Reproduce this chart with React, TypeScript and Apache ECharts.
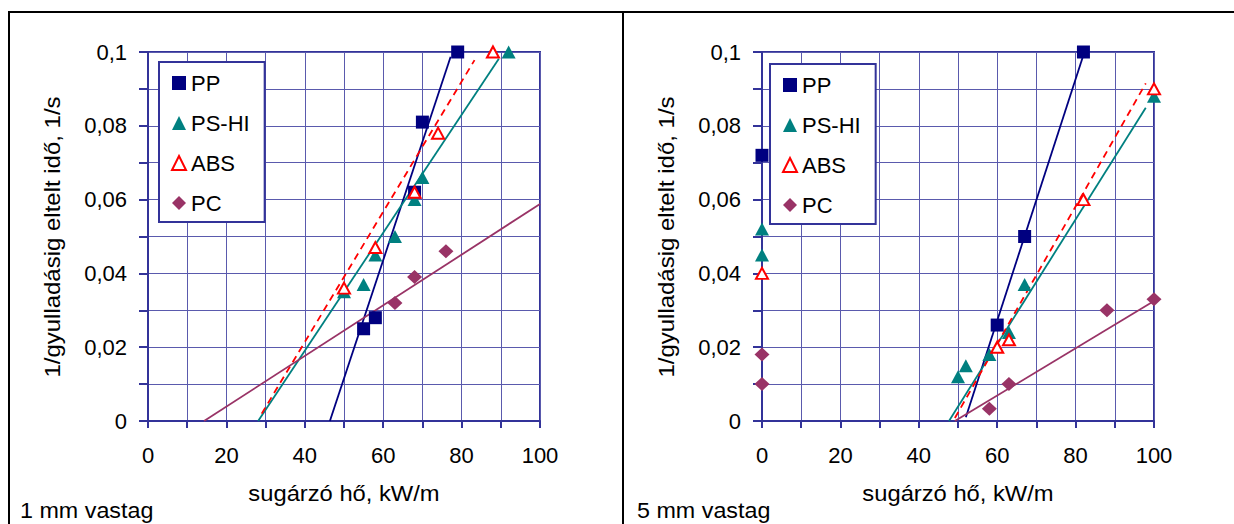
import React, { useEffect, useRef } from "react";
import * as echarts from "echarts";

// ---------- data ----------
const seriesNames = ["PP", "PS-HI", "ABS", "PC"];
const xTickLabels = [0, 20, 40, 60, 80, 100];
const yTickLabels = ["0", "0,02", "0,04", "0,06", "0,08", "0,1"];

// 1 mm vastag
const ppLeft = [[79, 0.1], [70, 0.081], [68, 0.062], [58, 0.028], [55, 0.025]];
const psLeft = [[92, 0.1], [70, 0.066], [68, 0.06], [63, 0.05], [58, 0.045], [55, 0.037], [50, 0.035]];
const absLeft = [[88, 0.1], [74, 0.078], [68, 0.062], [58, 0.047], [50, 0.036]];
const pcLeft = [[76, 0.046], [68, 0.039], [63, 0.032]];
const ppTrendLeft = [[46.4, 0], [77.2, 0.0987]];
const psTrendLeft = [[28.1, 0], [89.5, 0.0982]];
const absTrendLeft = [[29, 0.002], [83.3, 0.0978]];
const pcTrendLeft = [[14.3, 0], [100, 0.0588]];

// 5 mm vastag
const ppRight = [[82, 0.1], [67, 0.05], [60, 0.026], [0, 0.072]];
const psRight = [[100, 0.088], [67, 0.037], [63, 0.024], [58, 0.018], [52, 0.015], [50, 0.012], [0, 0.052], [0, 0.045]];
const absRight = [[100, 0.09], [82, 0.06], [63, 0.022], [60, 0.02], [0, 0.04]];
const pcRight = [[100, 0.033], [88, 0.03], [63, 0.01], [58, 0.0033], [0, 0.018], [0, 0.01]];
const ppTrendRight = [[52, 0.001], [82, 0.0992]];
const psTrendRight = [[47.7, 0], [97.9, 0.0849]];
const absTrendRight = [[49.2, 0.0008], [97.9, 0.0915]];
const pcTrendRight = [[49.2, 0], [100, 0.0325]];

const yTitle = "1/gyulladásig eltelt idő, 1/s";
const xTitle = "sugárzó hő, kW/m";
const panelNotes = ["1 mm vastag", "5 mm vastag"];

// ---------- styles ----------
const FONT = '"Liberation Sans", Arial, sans-serif';
const AXIS = "#333399";
const GRIDC = "#5a5aad";
const COLORS = { PP: "#000080", PS: "#008080", ABS: "#ff0000", PC: "#993366" };

function xFmt(v: number) {
  const r = Math.round(v);
  return xTickLabels.indexOf(r) >= 0 ? String(r) : "";
}
function yFmt(v: number) {
  const r = Math.round(v * 100);
  if (r % 2 !== 0) return "";
  return yTickLabels[r / 2] ?? "";
}

function makeX(i: number) {
  return {
    type: "value",
    gridIndex: i,
    min: 0,
    max: 100,
    interval: 10,
    axisLine: { show: true, onZero: false, lineStyle: { color: AXIS, width: 2 } },
    axisTick: { show: true, length: 7, lineStyle: { color: AXIS, width: 2 } },
    axisLabel: {
      show: true,
      margin: 23,
      fontSize: 22,
      fontFamily: FONT,
      color: "#000",
      formatter: xFmt,
      showMinLabel: true,
      showMaxLabel: true,
      hideOverlap: false,
    },
    splitLine: { show: true, lineStyle: { color: GRIDC, width: 1 } },
  };
}
function makeY(i: number) {
  return {
    type: "value",
    gridIndex: i,
    min: 0,
    max: 0.1,
    interval: 0.01,
    axisLine: { show: true, onZero: false, lineStyle: { color: AXIS, width: 2 } },
    axisTick: { show: true, length: 9, lineStyle: { color: AXIS, width: 2 } },
    axisLabel: {
      show: true,
      margin: 21,
      fontSize: 22,
      fontFamily: FONT,
      color: "#000",
      formatter: yFmt,
      showMinLabel: true,
      showMaxLabel: true,
      hideOverlap: false,
    },
    splitLine: { show: true, lineStyle: { color: GRIDC, width: 1 } },
  };
}

function trend(i: number, name: string, data: number[][], color: string, dashed = false) {
  return {
    type: "line",
    name,
    xAxisIndex: i,
    yAxisIndex: i,
    data,
    showSymbol: false,
    symbol: "none",
    silent: true,
    z: 2,
    lineStyle: { color, width: 1.8, type: dashed ? [7, 5] : "solid", opacity: 1 },
  };
}

function scatterSet(i: number, pp: number[][], ps: number[][], abs: number[][], pc: number[][]) {
  const base = { type: "scatter", xAxisIndex: i, yAxisIndex: i, clip: false, z: 3, silent: true };
  return [
    { ...base, name: "PP", data: pp, symbol: "rect", symbolSize: 13, itemStyle: { color: COLORS.PP, opacity: 1 } },
    { ...base, name: "PS-HI", data: ps, symbol: "triangle", symbolSize: [14, 13], itemStyle: { color: COLORS.PS, opacity: 1 } },
    {
      ...base,
      name: "ABS",
      data: abs,
      symbol: "triangle",
      symbolSize: [12, 11],
      itemStyle: { color: "#ffffff", borderColor: COLORS.ABS, borderWidth: 2, opacity: 1 },
    },
    { ...base, name: "PC", data: pc, symbol: "diamond", symbolSize: [15, 14], itemStyle: { color: COLORS.PC, opacity: 1 } },
  ];
}

function legend(left: number, top: number) {
  return {
    show: true,
    orient: "vertical",
    left,
    top,
    data: seriesNames,
    selectedMode: false,
    backgroundColor: "#ffffff",
    borderColor: AXIS,
    borderWidth: 2,
    borderRadius: 0,
    padding: [9, 15, 7, 12],
    itemGap: 16,
    itemWidth: 14,
    itemHeight: 14,
    textStyle: { fontSize: 22, fontFamily: FONT, color: "#000", lineHeight: 24 },
  };
}

export default function App() {
  const ref = useRef<HTMLDivElement>(null);
  useEffect(() => {
    if (!ref.current) return;
    const chart = echarts.init(ref.current, null, { renderer: "svg" });
    const dx = 614;
    const textStyle = (text: string, align: string) => ({
      text,
      fontSize: 22,
      fontFamily: FONT,
      fill: "#000",
      align,
      verticalAlign: "middle",
    });
    const option: any = {
      animation: false,
      backgroundColor: "#ffffff",
      grid: [
        { left: 148, top: 52, width: 392, height: 369, show: true, borderColor: AXIS, borderWidth: 2, backgroundColor: "transparent", containLabel: false, outerBoundsMode: "none" },
        { left: 762, top: 52, width: 392, height: 369, show: true, borderColor: AXIS, borderWidth: 2, backgroundColor: "transparent", containLabel: false, outerBoundsMode: "none" },
      ],
      xAxis: [makeX(0), makeX(1)],
      yAxis: [makeY(0), makeY(1)],
      legend: [legend(159, 62), legend(770, 64)],
      series: [
        trend(0, "PP trend 1", ppTrendLeft, COLORS.PP),
        trend(0, "PS-HI trend 1", psTrendLeft, COLORS.PS),
        trend(0, "ABS trend 1", absTrendLeft, COLORS.ABS, true),
        trend(0, "PC trend 1", pcTrendLeft, COLORS.PC),
        ...scatterSet(0, ppLeft, psLeft, absLeft, pcLeft),
        trend(1, "PP trend 5", ppTrendRight, COLORS.PP),
        trend(1, "PS-HI trend 5", psTrendRight, COLORS.PS),
        trend(1, "ABS trend 5", absTrendRight, COLORS.ABS, true),
        trend(1, "PC trend 5", pcTrendRight, COLORS.PC),
        ...scatterSet(1, ppRight, psRight, absRight, pcRight),
      ],
      graphic: [
        { type: "line", shape: { x1: 8, y1: 12, x2: 1234, y2: 12 }, style: { stroke: "#000", lineWidth: 2 }, silent: true },
        { type: "line", shape: { x1: 9, y1: 11, x2: 9, y2: 524 }, style: { stroke: "#000", lineWidth: 2 }, silent: true },
        { type: "line", shape: { x1: 623, y1: 11, x2: 623, y2: 524 }, style: { stroke: "#000", lineWidth: 2 }, silent: true },
        { type: "text", x: 52, y: 237, rotation: Math.PI / 2, scaleX: 1.09, style: textStyle(yTitle, "center"), silent: true },
        { type: "text", x: 52 + dx, y: 237, rotation: Math.PI / 2, scaleX: 1.09, style: textStyle(yTitle, "center"), silent: true },
        { type: "text", x: 344, y: 493, scaleX: 1.08, style: textStyle(xTitle, "center"), silent: true },
        { type: "text", x: 344 + dx, y: 493, scaleX: 1.08, style: textStyle(xTitle, "center"), silent: true },
        { type: "text", x: 20, y: 510, scaleX: 1.06, style: textStyle(panelNotes[0], "left"), silent: true },
        { type: "text", x: 637, y: 510, scaleX: 1.06, style: textStyle(panelNotes[1], "left"), silent: true },
      ],
    };
    chart.setOption(option);
    return () => chart.dispose();
  }, []);
  return (
    <div
      ref={ref}
      style={{ position: "fixed", left: 0, top: 0, width: 1234, height: 524, background: "#fff" }}
    />
  );
}
